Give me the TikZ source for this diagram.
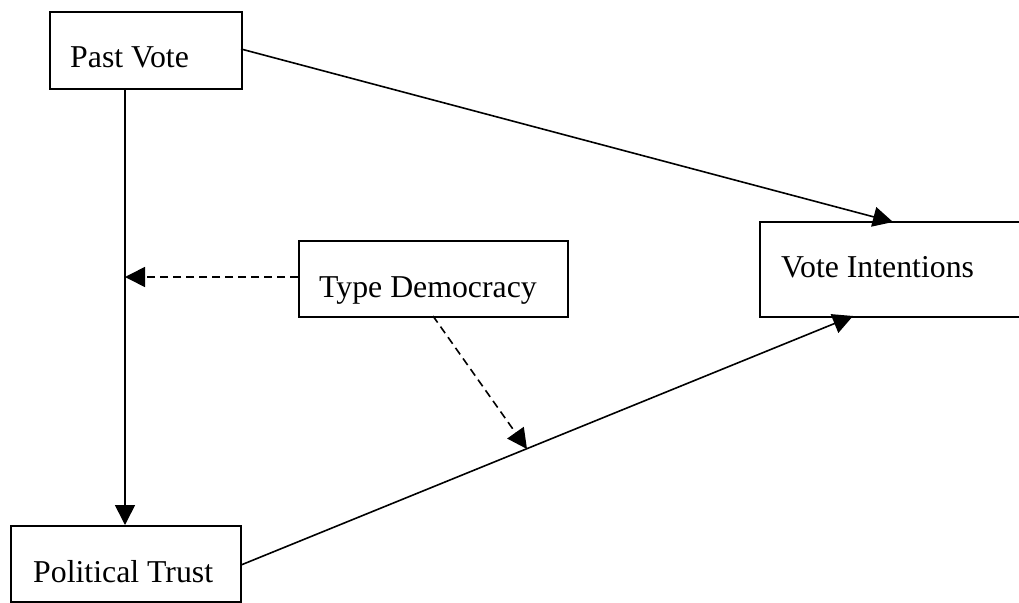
\documentclass[tikz,border=0pt]{standalone}
\usepackage{fontspec}
\setmainfont{Liberation Serif}
\usetikzlibrary{arrows.meta,calc}
\begin{document}
\begin{tikzpicture}[x=1pt,y=-1pt,
  box/.style={draw,line width=1.8pt,inner sep=0pt,anchor=north west},
  lbl/.style={anchor=base west,inner sep=0pt,font=\fontsize{31.8}{38}\selectfont},
  conn/.style={line width=1.6pt,-{Triangle[length=20pt,width=20pt]}},
  dconn/.style={conn,dash pattern=on 8pt off 5pt}]
\useasboundingbox (0,0) rectangle (1019,602);
\node[box,minimum width=192pt,minimum height=77pt] (pv) at (49,11) {};
\node[lbl] (pvt) at (70,67) {Past Vote};
\node[box,minimum width=230pt,minimum height=76pt] (pt) at (10,525) {};
\node[lbl] (ptt) at (33,582) {Political Trust};
\node[box,minimum width=269pt,minimum height=76pt] (td) at (298,240) {};
\node[lbl] (tdt) at (319,297) {Type Democracy};
\node[box,minimum width=270pt,minimum height=95pt] (vi) at (759,221) {};
\node[lbl] (vit) at (781,277) {Vote Intentions};
\coordinate (pvb) at (125,88);
\coordinate (ptt0) at (125,525);
\coordinate (m1) at (125,277);
\coordinate (pvr) at (241,49);
\coordinate (vit1) at (893,222);
\coordinate (ptr) at (241,565);
\coordinate (vib) at (853,316);
\coordinate (tdl) at (298,277);
\coordinate (tdb) at (433,316);
\coordinate (m2) at (527,449);
\draw[conn] (pvb) -- (ptt0);
\draw[conn] (pvr) -- (vit1);
\draw[conn] (ptr) -- (vib);
\draw[dconn] (tdl) -- (m1);
\draw[dconn] (tdb) -- (m2);
\end{tikzpicture}
\end{document}
